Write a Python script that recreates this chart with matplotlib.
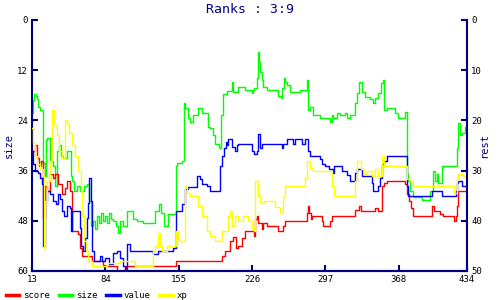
import matplotlib
matplotlib.use('Agg')
import matplotlib.pyplot as plt

# x positions / values (step breakpoints)
size_x = [13, 14, 15, 17, 18, 19, 21, 24, 26, 27, 28, 30, 33, 35, 37, 39, 41, 43, 47, 51, 52, 54, 57, 59, 63,
          66, 68, 70, 72, 74, 76, 78, 80, 82, 84, 86, 88, 89, 91, 94, 96, 98, 101, 105, 111, 115, 120, 132,
          136, 138, 141, 145, 152, 153, 158, 160, 161, 164, 166, 169, 174, 178, 183, 185, 188, 190, 194, 196,
          198, 202, 207, 208, 212, 219, 226, 227, 228, 231, 232, 233, 234, 236, 237, 240, 251, 254, 255, 257,
          258, 260, 263, 272, 279, 280, 282, 285, 292, 301, 303, 304, 308, 311, 316, 318, 321, 326, 328, 329,
          332, 335, 340, 343, 345, 348, 351, 353, 354, 357, 364, 367, 374, 376, 377, 379, 382, 390, 398, 401,
          403, 405, 406, 410, 424, 425, 427, 429, 432, 434]
size_y = [22.3, 19.2, 17.8, 18.2, 19.0, 20.9, 21.6, 34.3, 37.2, 28.8, 28.1, 33.6, 34.8, 39.6, 31.2, 30.0, 32.4,
          32.9, 31.2, 37.2, 38.4, 40.8, 39.6, 40.8, 39.6, 39.1, 43.2, 49.2, 48.0, 49.9, 46.8, 48.5, 46.1, 48.0,
          46.8, 48.5, 46.1, 47.5, 48.0, 49.2, 50.9, 48.0, 49.2, 45.6, 47.5, 48.0, 48.5, 45.6, 43.9, 46.1, 49.2,
          46.3, 34.8, 34.1, 33.6, 19.9, 21.1, 23.5, 24.5, 22.8, 21.1, 22.3, 25.7, 25.9, 27.6, 29.6, 30.7, 22.8,
          17.8, 17.0, 14.9, 17.3, 16.1, 16.8, 17.5, 16.8, 16.3, 13.9, 7.7, 10.1, 12.5, 14.4, 16.1, 16.8, 18.2,
          18.7, 16.3, 13.9, 14.9, 15.6, 17.3, 16.8, 14.4, 21.6, 20.9, 22.8, 23.5, 24.5, 22.8, 23.5, 22.3, 22.8,
          22.3, 23.5, 22.8, 19.9, 17.5, 14.9, 17.3, 18.5, 19.0, 19.9, 18.7, 17.5, 15.1, 14.4, 21.6, 21.1, 22.3,
          23.5, 22.0, 36.7, 38.4, 40.8, 42.2, 43.0, 40.8, 36.0, 38.4, 36.7, 39.0, 34.8, 30.5, 24.7, 27.6, 27.1,
          25.7, 25.7]

score_x = [13, 16, 18, 20, 22, 24, 26, 28, 30, 33, 35, 38, 42, 45, 47, 50, 52, 58, 59, 61, 71, 82, 95, 104,
           152, 197, 200, 205, 208, 210, 212, 216, 219, 228, 229, 231, 232, 236, 237, 240, 251, 256, 258, 279,
           280, 281, 283, 284, 294, 295, 301, 303, 326, 329, 331, 345, 348, 352, 354, 357, 374, 376, 378, 380,
           382, 400, 402, 408, 411, 421, 423, 424, 425, 434]
score_y = [26, 25, 27.4, 29, 28, 39.4, 33, 34, 30.6, 31.4, 30.6, 32.6, 34.6, 33.4, 32, 34, 42, 42.6, 45.4, 47,
           48, 49, 50, 49, 48, 47, 46, 44, 43.2, 45.4, 45, 43.4, 42, 43, 39.6, 39, 40.4, 41.6, 40.4, 41, 42, 41,
           40, 38.4, 37, 38.4, 39.6, 39, 40, 41, 40, 39, 37.8, 37, 38, 37.4, 38, 33, 32.4, 32, 32.6, 34.6, 36,
           37.4, 39, 37, 38, 38.6, 39, 40, 39, 37, 34, 34]

value_x = [13, 14, 16, 19, 21, 23, 24, 26, 28, 30, 33, 36, 38, 40, 42, 44, 47, 50, 51, 52, 59, 60, 62, 64, 66,
           67, 68, 70, 71, 73, 79, 81, 84, 88, 91, 95, 98, 101, 103, 105, 108, 130, 135, 149, 152, 158, 161,
           164, 173, 176, 178, 182, 185, 195, 197, 199, 201, 202, 203, 207, 209, 211, 212, 226, 228, 231, 232,
           234, 236, 255, 256, 260, 266, 268, 274, 277, 280, 282, 292, 294, 297, 300, 304, 305, 313, 318, 321,
           326, 328, 332, 342, 343, 348, 350, 352, 354, 357, 376, 377, 400, 410, 423, 424, 425, 429, 434]
value_y = [26, 28.6, 30, 30.4, 31.4, 32.6, 45, 36, 34, 34.6, 36, 36.6, 34.6, 35.6, 38, 39, 37, 37.4, 42, 38,
           41.4, 45, 46, 43.4, 39.4, 36.4, 31.4, 36, 46, 48, 47, 48, 47.4, 48.6, 46.4, 46, 47.4, 49, 50, 44.6,
           46, 46.6, 46, 45.4, 38, 36.6, 33.6, 33.2, 31, 31.6, 32.6, 33, 34, 29, 27, 25.6, 24.4, 25, 23.8, 25.4,
           26, 25, 24.8, 26, 26.6, 26, 22.8, 25.6, 24.8, 25.6, 24.8, 23.8, 24.8, 23.8, 24.8, 23.8, 26, 27, 27.6,
           28.6, 29, 29.6, 30.4, 29, 30, 30.8, 32, 30.4, 29.6, 31, 32.4, 34, 33, 31.4, 28.6, 28, 27, 33, 35, 34,
           35, 34, 32.4, 32, 33, 33]

xp_x = [13, 14, 16, 18, 21, 24, 25, 26, 28, 30, 32, 34, 37, 39, 42, 45, 47, 49, 52, 55, 58, 60, 61, 63, 65,
        67, 71, 86, 98, 113, 130, 132, 135, 137, 139, 144, 152, 154, 156, 161, 163, 166, 174, 178, 182, 185,
        190, 197, 203, 205, 207, 209, 212, 217, 222, 226, 228, 229, 232, 234, 238, 248, 253, 256, 258, 277,
        279, 282, 285, 303, 305, 326, 328, 331, 334, 337, 342, 345, 348, 352, 354, 376, 379, 382, 421, 424,
        425, 430, 434]
xp_y = [21.6, 24.6, 27, 28.6, 29.6, 31, 45.4, 36, 32, 28, 18, 21, 23, 26, 27.4, 20, 20.8, 22.6, 25, 27, 30, 34,
        39, 44, 46, 48, 49, 48.4, 48, 49, 46, 45, 42.4, 45, 46, 45, 42, 43.6, 44, 33, 34.4, 35, 37, 39, 42, 43,
        44, 42, 39, 38, 41, 39, 40, 39, 40, 41.4, 42, 32, 35, 36.4, 36, 37.2, 38.4, 35, 33, 31.4, 28, 29.4, 30,
        33, 35, 32, 28, 29.6, 30.6, 30, 31, 29.6, 31, 27, 29, 31.6, 32, 33, 34.4, 31.4, 30.6, 31, 31]

x_ticks = [13, 84, 155, 226, 297, 368, 434]
size_ticks = [0, 12, 24, 36, 48, 60]
rest_ticks = [0, 10, 20, 30, 40, 50]

navy = '#000080'
mono = 'DejaVu Sans Mono'
plt.rcParams['font.family'] = mono

fig = plt.figure(figsize=(5, 3), dpi=100)
ax = fig.add_axes([0.064, 0.0967, 0.87, 0.8367])
ax2 = ax.twinx()

l_size, = ax.plot(size_x, size_y, drawstyle='steps-post', color='#00ff00', lw=1.0)
l_score, = ax2.plot(score_x, score_y, drawstyle='steps-post', color='#ff0000', lw=1.0)
l_value, = ax2.plot(value_x, value_y, drawstyle='steps-post', color='#0000ff', lw=1.0)
l_xp, = ax2.plot(xp_x, xp_y, drawstyle='steps-post', color='#ffff00', lw=1.0)

ax.set_xlim(13, 434)
ax.set_ylim(60, 0)
ax2.set_ylim(50, 0)
ax.set_xticks(x_ticks)
ax.set_yticks(size_ticks)
ax2.set_yticks(rest_ticks)

for a in (ax, ax2):
    a.spines['top'].set_visible(False)
    for s in a.spines.values():
        s.set_color(navy)
        s.set_linewidth(1.5)
ax.spines['right'].set_visible(False)
ax2.spines['left'].set_visible(False)

ax.tick_params(axis='both', direction='in', length=4, width=1.5, color=navy,
               labelsize=6.5, labelcolor='black', pad=3)
ax2.tick_params(axis='y', direction='in', length=4, width=1.5, color=navy,
                labelsize=6.5, labelcolor='black', pad=3)

ax.set_ylabel('size', color=navy, fontsize=7.5)
ax.yaxis.set_label_coords(-0.042, 0.5)
ax2.set_ylabel('rest', color=navy, fontsize=7.5, rotation=90)
ax2.yaxis.set_label_coords(1.028, 0.5)

fig.text(0.5, 0.967, 'Ranks : 3:9', ha='center', va='center', color=navy, fontsize=9.5)

handles = [l_score, l_size, l_value, l_xp]
labels = ['score', 'size', 'value', 'xp']
leg = fig.legend(handles, labels, loc='lower left', bbox_to_anchor=(-0.005, -0.027), ncol=4,
                 frameon=False, fontsize=6.5, handlelength=1.5, handletextpad=0.4, columnspacing=1.0)
for h in leg.legend_handles:
    h.set_linewidth(2.5)

fig.savefig('out.png', dpi=100)
